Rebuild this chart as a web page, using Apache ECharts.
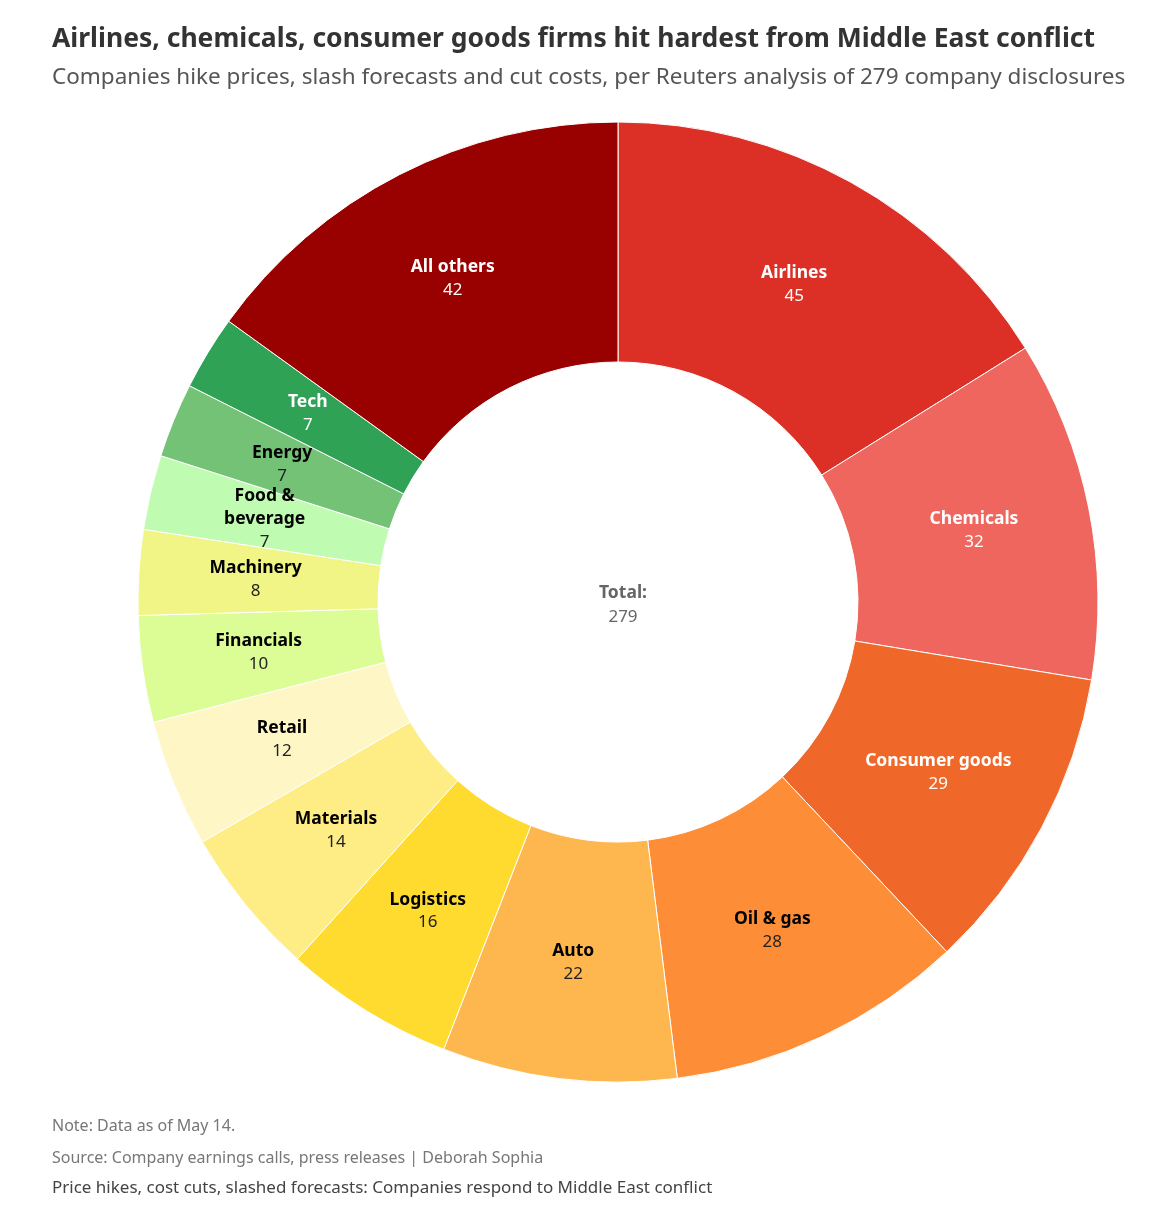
<!DOCTYPE html>
<html>
<head>
<meta charset="utf-8">
<script src="https://cdn.jsdelivr.net/npm/echarts@6/dist/echarts.min.js"></script>
<style>
  html, body { margin: 0; padding: 0; background: #fff; }
  #main { width: 1156px; height: 1226px; }
</style>
</head>
<body>
<div id="main"></div>
<script>
// sectors, clockwise from 12 o'clock
var sectors = ['Airlines', 'Chemicals', 'Consumer goods', 'Oil & gas', 'Auto', 'Logistics', 'Materials',
  'Retail', 'Financials', 'Machinery', 'Food &\nbeverage', 'Energy', 'Tech', 'All others'];
var counts = [45, 32, 29, 28, 22, 16, 14, 12, 10, 8, 7, 7, 7, 42];
var colors = ['#dc3027', '#ee665d', '#f0672a', '#fe8d37', '#feb74f', '#fedb2e', '#feec85',
  '#fef7c5', '#dcfc95', '#f0f586', '#bffbb0', '#74c276', '#2fa255', '#990000'];
// which labels sit on dark slices
var darkSlices = ['Airlines', 'Chemicals', 'Consumer goods', 'Tech', 'All others'];

var total = 0;
counts.forEach(function (v) { total += v; });

var FONT = '"Noto Sans", sans-serif';

var myChart = echarts.init(document.getElementById('main'));

var pieData = sectors.map(function (name, i) {
  var dark = darkSlices.indexOf(name) >= 0;
  return {
    name: name,
    value: counts[i],
    itemStyle: { color: colors[i] },
    label: {
      rich: {
        n: { fontFamily: FONT, fontWeight: 'bold', fontSize: 17.5, color: dark ? '#fff' : '#000', lineHeight: 23, align: 'center' },
        v: { fontFamily: FONT, fontWeight: 'normal', fontSize: 17, color: dark ? '#fff' : '#222', lineHeight: 23, align: 'center' }
      }
    }
  };
});

var option = {
  backgroundColor: '#fff',
  title: [
    {
      text: 'Airlines, chemicals, consumer goods firms hit hardest from Middle East conflict',
      left: 47, top: 21,
      textStyle: { fontFamily: FONT, fontWeight: 'bold', fontSize: 26.5, color: '#333' }
    },
    {
      text: 'Companies hike prices, slash forecasts and cut costs, per Reuters analysis of 279 company disclosures',
      left: 47, top: 61,
      textStyle: { fontFamily: FONT, fontWeight: 'normal', fontSize: 22.5, color: '#555' }
    },
    {
      text: 'Note: Data as of May 14.',
      left: 47, top: 1113,
      textStyle: { fontFamily: FONT, fontWeight: 'normal', fontSize: 16, color: '#777' }
    },
    {
      text: 'Source: Company earnings calls, press releases | Deborah Sophia',
      left: 47, top: 1145,
      textStyle: { fontFamily: FONT, fontWeight: 'normal', fontSize: 16, color: '#777' }
    },
    {
      text: 'Price hikes, cost cuts, slashed forecasts: Companies respond to Middle East conflict',
      left: 47, top: 1175,
      textStyle: { fontFamily: FONT, fontWeight: 'normal', fontSize: 17, color: '#444' }
    },
    {
      text: '{a|Total:}\n{b|' + total + '}',
      left: 618, top: 600, textAlign: 'center', textVerticalAlign: 'middle',
      textStyle: {
        rich: {
          a: { fontFamily: FONT, fontWeight: 'bold', fontSize: 17.5, color: '#666', lineHeight: 24, align: 'center' },
          b: { fontFamily: FONT, fontWeight: 'normal', fontSize: 17, color: '#666', lineHeight: 24, align: 'center' }
        }
      }
    }
  ],
  series: [
    {
      type: 'pie',
      center: [618, 602],
      radius: [240, 480],
      startAngle: 90,
      clockwise: true,
      avoidLabelOverlap: false,
      silent: true,
      itemStyle: { borderColor: '#fff', borderWidth: 1 },
      label: {
        show: true,
        position: 'inside',
        formatter: function (p) {
          return '{n|' + p.name.split('\n').join('}\n{n|') + '}\n{v|' + p.value + '}';
        }
      },
      labelLine: { show: false },
      data: pieData
    }
  ]
};

myChart.setOption(option);
</script>
</body>
</html>
